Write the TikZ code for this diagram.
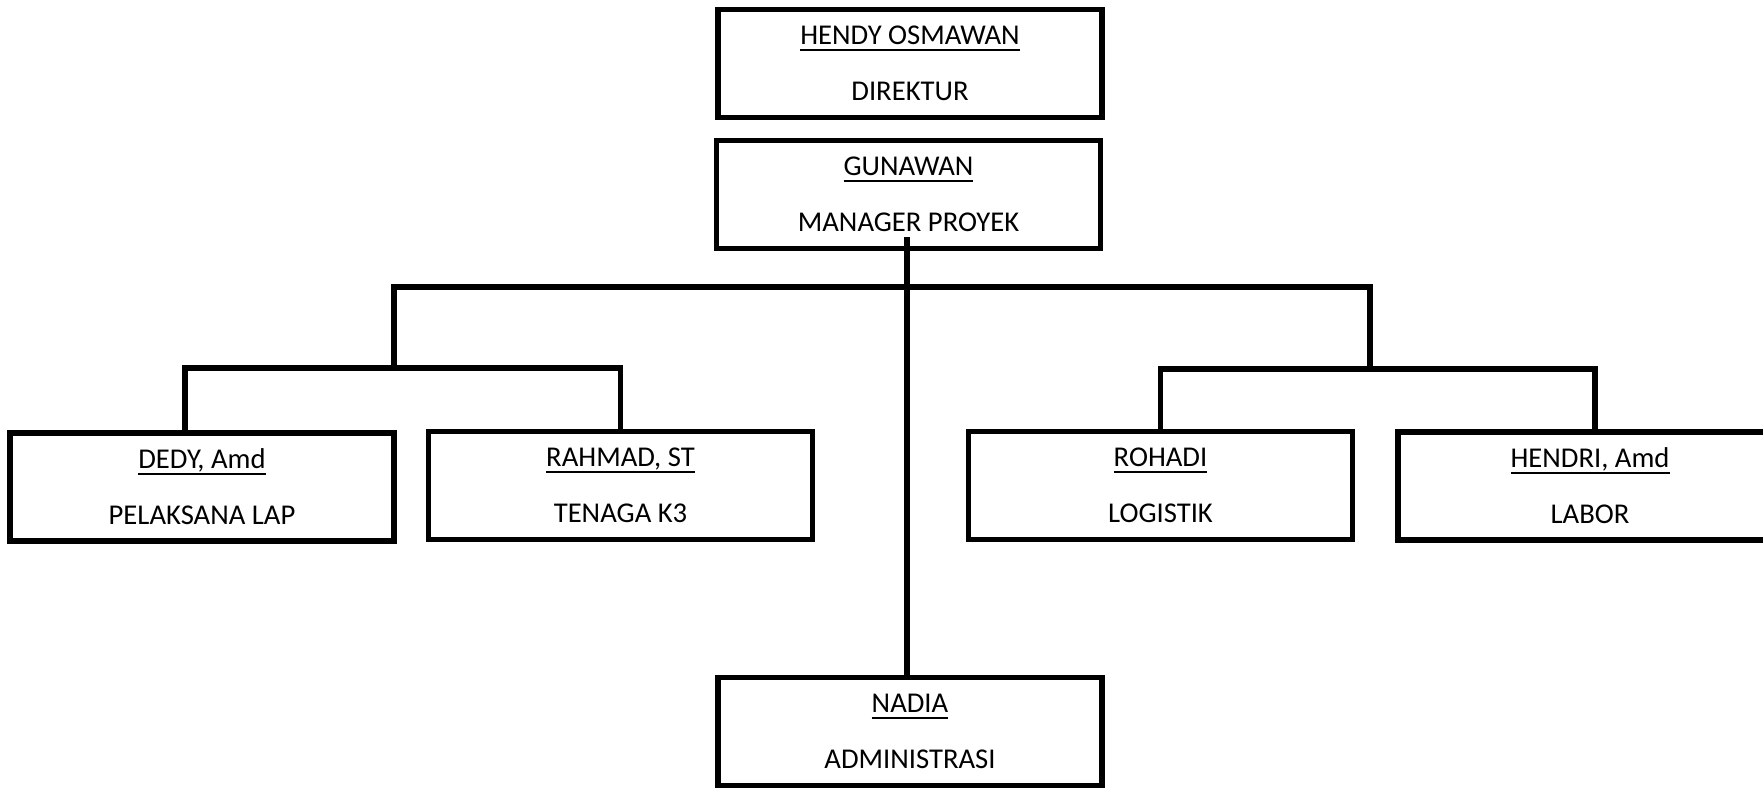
\documentclass[tikz,border=0pt]{standalone}
\usepackage{fontspec}
\setmainfont{Carlito}
\newcommand{\nameul}[1]{\setbox0\hbox{#1}\rlap{\rule[-4.5pt]{\wd0}{1.5pt}}\box0}

\begin{document}
\begin{tikzpicture}[x=0.75pt, y=-0.75pt, line width=4pt,
	box/.style = {draw, rectangle, minimum width=288pt, minimum height=81pt, inner sep=0pt, align=center, font=\fontsize{21.5}{42}\selectfont}]

		\useasboundingbox (0,0) rectangle (1763,788);

		\node[box] (dir) at (910,63.5) {\nameul{HENDY OSMAWAN}\\DIREKTUR};
		\node[box] (mgr) at (908.5,194.5) {\nameul{GUNAWAN}\\MANAGER PROYEK};
		\node[box] (dedy) at (202,487) {\nameul{DEDY, Amd}\\PELAKSANA LAP};
		\node[box] (rahmad) at (620.5,485.5) {\nameul{RAHMAD, ST}\\TENAGA K3};
		\node[box] (rohadi) at (1160.5,485.5) {\nameul{ROHADI}\\LOGISTIK};
		\node[box] (hendri) at (1590,486) {\nameul{HENDRI, Amd}\\LABOR};
		\node[box] (nadia) at (910,731.5) {\nameul{NADIA}\\ADMINISTRASI};

		\coordinate (trunk) at (907,237);
		\coordinate (lbus) at (394,287);
		\coordinate (rbus) at (1370,287);
		\coordinate (lsub) at (394,368);
		\coordinate (rsub) at (1370,369);

		\draw (trunk) -- (trunk |- nadia.north);
		\draw (lsub) -- (lbus) -- (rbus) -- (rsub);
		\draw ([xshift=-12.75pt]dedy.north) |- (lsub) -| (rahmad.north);
		\draw (rohadi.north) |- (rsub) -| ([xshift=3.75pt]hendri.north);
	\end{tikzpicture}
\end{document}
